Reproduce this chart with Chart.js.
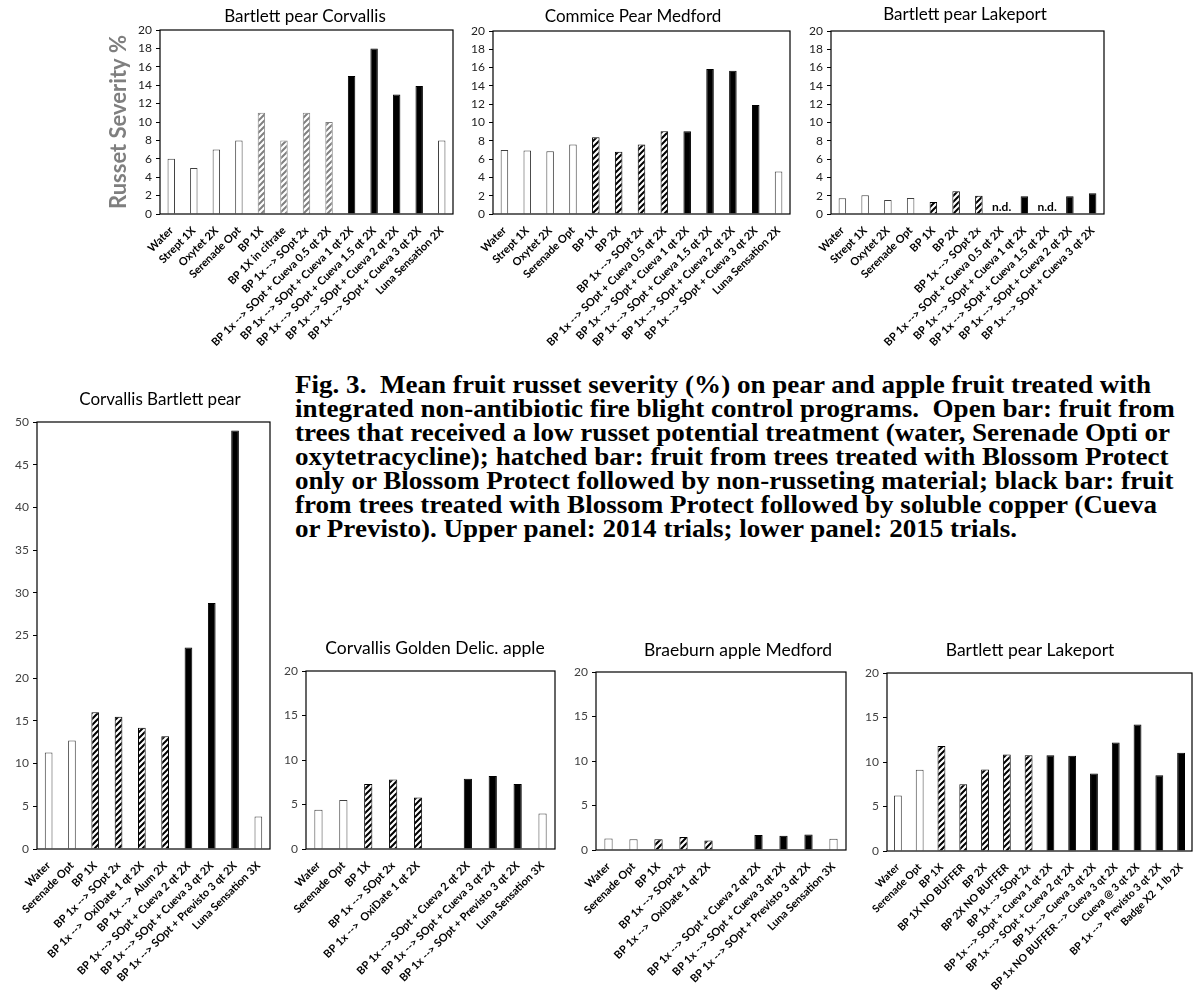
<!DOCTYPE html>
<html>
<head>
<meta charset="utf-8">
<script src="https://cdn.jsdelivr.net/npm/chart.js@4.4.1/dist/chart.umd.min.js"></script>
<style>
  html, body { margin: 0; padding: 0; background: #fff; }
  body { width: 1196px; height: 992px; position: relative; overflow: hidden; }
  .panel { position: absolute; }
  #caption {
    position: absolute; left: 295px; top: 373px;
    font-family: "Liberation Serif", "Times New Roman", serif;
    font-weight: bold; font-size: 26px; line-height: 24px;
    color: #000; white-space: nowrap; transform-origin: 0 0;
  }
</style>
</head>
<body>
<div id="caption">
  <div class="line">Fig. 3.&nbsp; Mean fruit russet severity (%) on pear and apple fruit treated with</div>
  <div class="line" id="widest">integrated non-antibiotic fire blight control programs.&nbsp; Open bar: fruit from</div>
  <div class="line">trees that received a low russet potential treatment (water, Serenade Opti or</div>
  <div class="line">oxytetracycline); hatched bar: fruit from trees treated with Blossom Protect</div>
  <div class="line">only or Blossom Protect followed by non-russeting material; black bar: fruit</div>
  <div class="line">from trees treated with Blossom Protect followed by soluble copper (Cueva</div>
  <div class="line">or Previsto). Upper panel: 2014 trials; lower panel: 2015 trials.</div>
</div>
<script>
// ---- 2014 trials ----
var labelsCorvallis2014 = ["Water", "Strept 1X", "Oxytet 2X", "Serenade Opt", "BP 1X", "BP 1X in citrate",
  "BP 1x --> SOpt 2x", "BP 1x --> SOpt + Cueva 0.5 qt 2X", "BP 1x --> SOpt + Cueva 1 qt 2X",
  "BP 1x --> SOpt + Cueva 1.5 qt 2X", "BP 1x --> SOpt + Cueva 2 qt 2X", "BP 1x --> SOpt + Cueva 3 qt 2X",
  "Luna Sensation 2X"];
var groupsCorvallis2014 = ["open", "open", "open", "open", "hatch", "hatch", "hatch", "hatch",
  "copper", "copper", "copper", "copper", "open"];
var corvallis2014 = [6, 5, 7, 8, 11, 8, 11, 10, 15, 18, 13, 13.9, 8];

var labelsMedford2014 = ["Water", "Strept 1X", "Oxytet 2X", "Serenade Opt", "BP 1X", "BP 2X",
  "BP 1x --> SOpt 2x", "BP 1x --> SOpt + Cueva 0.5 qt 2X", "BP 1x --> SOpt + Cueva 1 qt 2X",
  "BP 1x --> SOpt + Cueva 1.5 qt 2X", "BP 1x --> SOpt + Cueva 2 qt 2X", "BP 1x --> SOpt + Cueva 3 qt 2X",
  "Luna Sensation 2X"];
var groupsMedford2014 = groupsCorvallis2014;
var medford2014 = [7.0, 6.95, 6.85, 7.6, 8.4, 6.8, 7.6, 9.05, 9.05, 15.85, 15.65, 11.9, 4.65];

var labelsLakeport2014 = ["Water", "Strept 1X", "Oxytet 2X", "Serenade Opt", "BP 1X", "BP 2X",
  "BP 1x --> SOpt 2x", "BP 1x --> SOpt + Cueva 0.5 qt 2X", "BP 1x --> SOpt + Cueva 1 qt 2X",
  "BP 1x --> SOpt + Cueva 1.5 qt 2X", "BP 1x --> SOpt + Cueva 2 qt 2X", "BP 1x --> SOpt + Cueva 3 qt 2X"];
var groupsLakeport2014 = ["open", "open", "open", "open", "hatch", "hatch", "hatch",
  "copper", "copper", "copper", "copper", "copper"];
var lakeport2014 = [1.72, 2.04, 1.53, 1.75, 1.31, 2.48, 2.0, null, 1.93, null, 1.93, 2.26]; // null = n.d.

// ---- 2015 trials ----
var labelsCorvallisPear2015 = ["Water", "Serenade Opt", "BP 1X", "BP 1x --> SOpt 2x",
  "BP 1x -->  OxiDate 1 qt 2X", "BP 1x -->  Alum 2X", "BP 1x --> SOpt + Cueva 2 qt 2X",
  "BP 1x --> SOpt + Cueva 3 qt 2X", "BP 1x --> SOpt + Previsto 3 qt 2X", "Luna Sensation 3X"];
var groups2015 = ["open", "open", "hatch", "hatch", "hatch", "hatch", "copper", "copper", "copper", "open"];
var corvallisPear2015 = [11.3, 12.7, 16.0, 15.5, 14.2, 13.2, 23.6, 28.8, 49.0, 3.8];

var labelsApple2015 = ["Water", "Serenade Opt", "BP 1X", "BP 1x --> SOpt 2x",
  "BP 1x -->  OxiDate 1 qt 2X", "", "BP 1x --> SOpt + Cueva 2 qt 2X",
  "BP 1x --> SOpt + Cueva 3 qt 2X", "BP 1x --> SOpt + Previsto 3 qt 2X", "Luna Sensation 3X"];
var goldenDelicious2015 = [4.4, 5.5, 7.3, 7.8, 5.8, null, 7.9, 8.2, 7.3, 4.0];
var braeburn2015 = [1.3, 1.2, 1.2, 1.45, 1.08, null, 1.68, 1.6, 1.75, 1.27];

var labelsLakeport2015 = ["Water", "Serenade Opt", "BP 1X", "BP 1X NO BUFFER", "BP 2X", "BP 2X NO BUFFER",
  "BP 1x --> SOpt 2x", "BP 1x --> SOpt + Cueva 1 qt 2X", "BP 1x --> SOpt + Cueva 2 qt 2X",
  "BP 1x --> Cueva 3 qt 2X", "BP 1x NO BUFFER --> Cueva 3 qt 2X", "Cueva @ 3 qt 2X",
  "BP 1x -->  Previsto 3 qt 2X", "Badge X2  1 lb 2X"];
var groupsLakeport2015 = ["open", "open", "hatch", "hatch", "hatch", "hatch", "hatch",
  "copper", "copper", "copper", "copper", "copper", "copper", "copper"];
var lakeport2015 = [6.24, 9.12, 11.8, 7.5, 9.16, 10.85, 10.75, 10.75, 10.7, 8.7, 12.2, 14.2, 8.5, 11.05];

var FONT = "Lato, 'Open Sans', sans-serif";

function makeHatch(color) {
  var c = document.createElement('canvas');
  c.width = 6; c.height = 6;
  var g = c.getContext('2d');
  g.fillStyle = '#fff';
  g.fillRect(0, 0, 6, 6);
  g.strokeStyle = color;
  g.lineWidth = 2;
  g.beginPath();
  g.moveTo(-1, 7); g.lineTo(7, -1);
  g.moveTo(-1, 1); g.lineTo(1, -1);
  g.moveTo(5, 7); g.lineTo(7, 5);
  g.stroke();
  return g.createPattern(c, 'repeat');
}

// frame round the plot area, panel title and "n.d." marks
var extras = {
  id: 'extras',
  afterDatasetsDraw: function(chart, args, o) {
    var a = chart.chartArea, ctx = chart.ctx;
    ctx.save();
    ctx.strokeStyle = '#000';
    ctx.lineWidth = 1.2;
    ctx.strokeRect(a.left, a.top, a.right - a.left, a.bottom - a.top);
    var data = chart.data.datasets[0].data;
    ctx.font = 'bold 12px ' + FONT;
    ctx.fillStyle = '#000';
    ctx.textAlign = 'center';
    ctx.textBaseline = 'alphabetic';
    data.forEach(function(v, i) {
      if (v === null && chart.data.labels[i] !== '') {
        ctx.fillText('n.d.', chart.scales.x.getPixelForValue(i), chart.scales.y.getPixelForValue(0) - 3);
      }
    });
    ctx.font = o.size + 'px ' + FONT;
    ctx.textBaseline = 'middle';
    ctx.fillText(o.text, o.x, o.y);
    ctx.restore();
  }
};

function panel(p) {
  var x = p.l - p.yW, y = p.ty - 14, w = p.r - x + 3, h = Math.min(p.b + 140, 992) - y;
  var wrap = document.createElement('div');
  wrap.className = 'panel';
  wrap.style.left = x + 'px'; wrap.style.top = y + 'px';
  wrap.style.width = w + 'px'; wrap.style.height = h + 'px';
  var cv = document.createElement('canvas');
  cv.width = w; cv.height = h;
  cv.style.width = w + 'px'; cv.style.height = h + 'px';
  wrap.appendChild(cv);
  document.body.appendChild(wrap);

  var hatch = makeHatch(p.hatchColor || '#000');
  var fills = p.groups.map(function(g) { return g === 'open' ? '#fff' : g === 'hatch' ? hatch : '#000'; });
  var borders = p.groups.map(function(g) {
    return g === 'open' ? '#404040' : g === 'hatch' ? (p.hatchColor || '#000') : '#000';
  });

  return new Chart(cv, {
    type: 'bar',
    data: {
      labels: p.labels,
      datasets: [{
        data: p.values,
        backgroundColor: fills,
        borderColor: borders,
        borderWidth: 1,
        barPercentage: p.barPct || 0.33,
        categoryPercentage: 1
      }]
    },
    options: {
      responsive: false,
      animation: false,
      layout: { padding: { left: 0, right: 3, top: p.t - y, bottom: 0 } },
      plugins: {
        legend: { display: false },
        tooltip: { enabled: false },
        extras: { text: p.title, x: p.tx - x, y: p.ty - y, size: p.titleSize }
      },
      scales: {
        x: {
          grid: { display: false },
          border: { display: false },
          ticks: {
            autoSkip: false, maxRotation: 45, minRotation: 45, padding: 2,
            color: '#000', font: { family: FONT, size: p.xFont, weight: 'bold' }
          },
          afterFit: function(s) { s.height = p.b + 140 > 992 ? 992 - p.b : 140; s.paddingLeft = 0; s.paddingRight = 0; }
        },
        y: {
          min: 0, max: p.max,
          ticks: { stepSize: p.step, padding: 4, color: p.tickColor, font: { family: FONT, size: 12 } },
          grid: { drawOnChartArea: false, color: '#000', tickLength: 4 },
          border: { display: false },
          title: p.yTitle ? {
            display: true, text: p.yTitle, color: '#7f7f7f',
            font: { family: FONT, size: 22, weight: 'bold' }, padding: { top: 6, bottom: 0 }
          } : { display: false },
          afterFit: function(s) { s.width = p.yW; s.paddingTop = 0; s.paddingBottom = 0; }
        }
      }
    },
    plugins: [extras]
  });
}

panel({ title: 'Bartlett pear Corvallis', labels: labelsCorvallis2014, groups: groupsCorvallis2014,
  values: corvallis2014, hatchColor: '#808080', max: 20, step: 2, yTitle: 'Russet Severity %',
  l: 160, r: 453, t: 30, b: 214, tx: 305, ty: 17, yW: 60, xFont: 11, titleSize: 17, tickColor: '#222' });
panel({ title: 'Commice Pear Medford', labels: labelsMedford2014, groups: groupsMedford2014,
  values: medford2014, max: 20, step: 2,
  l: 493, r: 790, t: 31, b: 214, tx: 633, ty: 17, yW: 26, xFont: 11, titleSize: 17, tickColor: '#222' });
panel({ title: 'Bartlett pear Lakeport', labels: labelsLakeport2014, groups: groupsLakeport2014,
  values: lakeport2014, max: 20, step: 2,
  l: 831, r: 1104, t: 31, b: 214, tx: 965, ty: 15, yW: 31, xFont: 11, titleSize: 17, tickColor: '#222' });

panel({ title: 'Corvallis Bartlett pear', labels: labelsCorvallisPear2015, groups: groups2015,
  values: corvallisPear2015, max: 50, step: 5,
  l: 37, r: 270, t: 422, b: 849, tx: 160, ty: 400, yW: 32, xFont: 11, titleSize: 17, tickColor: '#404040' });
panel({ title: 'Corvallis Golden Delic. apple', labels: labelsApple2015, groups: groups2015,
  values: goldenDelicious2015, max: 20, step: 5,
  l: 306, r: 555, t: 671, b: 849, tx: 435, ty: 648, yW: 26, xFont: 11, titleSize: 17.5, tickColor: '#404040' });
panel({ title: 'Braeburn apple Medford', labels: labelsApple2015, groups: groups2015,
  values: braeburn2015, max: 20, step: 5,
  l: 596, r: 846, t: 672, b: 850, tx: 738, ty: 650, yW: 26, xFont: 11, titleSize: 17.5, tickColor: '#404040' });
panel({ title: 'Bartlett pear Lakeport', labels: labelsLakeport2015, groups: groupsLakeport2015,
  values: lakeport2015, max: 20, step: 5, barPct: 0.36,
  l: 887, r: 1192, t: 673, b: 851, tx: 1030, ty: 650, yW: 26, xFont: 10.5, titleSize: 17.5, tickColor: '#404040' });

// fit caption width to the reference block
var cap = document.getElementById('caption');
var wide = document.getElementById('widest');
var k = 880 / wide.scrollWidth;
cap.style.transform = 'scaleX(' + k.toFixed(3) + ')';
</script>
</body>
</html>
